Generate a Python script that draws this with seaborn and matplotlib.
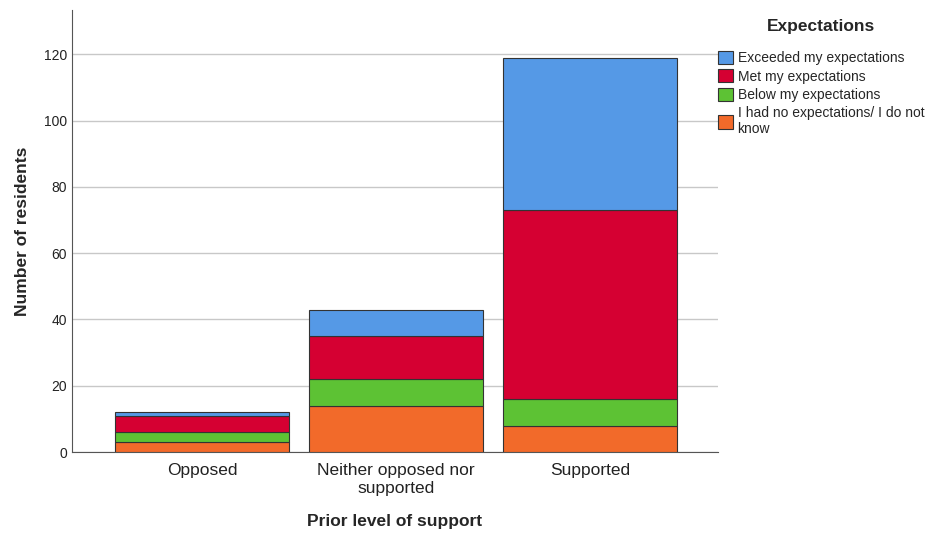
import numpy as np
import pandas as pd
import matplotlib
matplotlib.use("Agg")
import matplotlib.pyplot as plt
import seaborn as sns
from matplotlib.patches import Patch

# data
support = ["Opposed", "Neither opposed nor\nsupported", "Supported"]
no_expect = [3, 14, 8]
below = [3, 8, 8]
met = [5, 13, 57]
exceeded = [1, 8, 46]

labels = ["I had no expectations/ I do not\nknow", "Below my expectations",
          "Met my expectations", "Exceeded my expectations"]
colors = ["#F26A2A", "#5DC234", "#D50032", "#5599E6"]

sns.set_style("white")
plt.rcParams['font.family'] = ['Liberation Sans', 'DejaVu Sans']

fig = plt.figure(figsize=(9.4, 5.35), dpi=100)
ax = fig.add_axes([0.0766, 0.155, 0.687, 0.826])

series = [no_expect, below, met, exceeded]
bottom = np.zeros(len(support))
for vals, col in zip(series, colors):
    df = pd.DataFrame({"support": support, "n": vals})
    sns.barplot(data=df, x="support", y="n", color=col, width=0.9,
                bottom=bottom, edgecolor="#333333", linewidth=0.8, ax=ax,
                saturation=1, zorder=3)
    bottom = bottom + np.array(vals)

ax.set_xlim(-0.67, 2.66)
ax.set_ylim(0, 133.3)
ax.set_yticks(range(0, 121, 20))
ax.yaxis.grid(True, color="#c8c8c8", linewidth=1, zorder=0)
ax.set_axisbelow(True)
for s in ["top", "right"]:
    ax.spines[s].set_visible(False)
ax.spines["left"].set_color("#555555")
ax.spines["bottom"].set_color("#555555")
ax.tick_params(axis="y", labelsize=10, length=0, colors="#222222")
ax.tick_params(axis="x", labelsize=12.5, length=0, pad=8, colors="#222222")
ax.set_xlabel("Prior level of support", fontsize=12.5, fontweight="bold", labelpad=13)
ax.set_ylabel("Number of residents", fontsize=12.5, fontweight="bold", labelpad=10)

handles = [Patch(facecolor=c, edgecolor="#333333", linewidth=0.8, label=l)
           for c, l in zip(colors, labels)][::-1]
leg = fig.legend(handles=handles, loc="upper left", bbox_to_anchor=(0.758, 0.975),
                 title="Expectations", frameon=False, fontsize=10,
                 title_fontproperties={"weight": "bold", "size": 12.5},
                 handlelength=1.1, handleheight=1.1, handletextpad=0.3,
                 labelspacing=0.3, borderaxespad=0)
leg._legend_box.align = "center"
leg._legend_box.sep = 12

fig.savefig("out.png", dpi=100)
